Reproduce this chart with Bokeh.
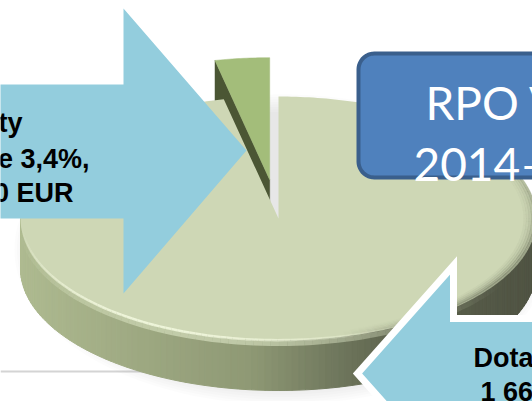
import numpy as np
from bokeh.plotting import figure
from bokeh.models import Range1d
from bokeh.embed import file_html
from bokeh.resources import INLINE
from bokeh.core.properties import value

# ---------------- data ----------------
slice_names = ["Priorita", "Dotace"]
slice_shares = [3.4, 96.6]            # percent of the total
left_arrow_lines = ["ty", "e 3,4%,", "0 EUR"]
box_lines = ["RPO V", "2014\u2013"]
right_arrow_lines = ["Dota", "1 66"]

# ---------------- styles / layout ----------------
SMALL_TOP = "#a3bd7a"
SMALL_CUT = "#4b5634"
BIG_TOP = "#ced7b5"
ARROW = "#93cddd"
BOX_FILL = "#4f81bd"
BOX_LINE = "#3a5f8c"

CX, CY, RX, RY, DEPTH = 278.0, 218.0, 258.0, 122.0, 50.0
EXPLODE = 0.32

p = figure(width=532, height=401, x_range=Range1d(0, 532), y_range=Range1d(401, 0),
           output_backend="svg", toolbar_location=None, min_border=0,
           x_axis_location=None, y_axis_location=None)
p.grid.visible = False
p.outline_line_color = None
p.background_fill_color = "white"
p.border_fill_color = "white"


def rim(theta, ox=0.0, oy=0.0, down=0.0, s=1.0):
    t = np.radians(theta)
    return CX + ox + s * RX * np.cos(t), CY + oy - s * RY * np.sin(t) + down


def interp_color(t, stops):
    for (t0, c0), (t1, c1) in zip(stops[:-1], stops[1:]):
        if t <= t1:
            f = 0 if t1 == t0 else (t - t0) / (t1 - t0)
            c = [int(round(a + (b - a) * f)) for a, b in zip(c0, c1)]
            return "#%02x%02x%02x" % tuple(c)
    return "#%02x%02x%02x" % tuple(stops[-1][1])


# slide rule line
p.line(x=[0, 320], y=[371, 371], line_color="#d4d4d4", line_width=2)

# soft shadow under the pie
for k in range(8):
    th = np.linspace(0, 360, 181)
    sx = CX + 4 + (RX + 10 - k * 2.5) * np.cos(np.radians(th))
    sy = CY + DEPTH / 2 + 6 - (RY + DEPTH / 2 + 8 - k * 2.5) * np.sin(np.radians(th))
    p.patch(x=sx, y=sy, fill_color="#707078", fill_alpha=0.025, line_color=None)

# slice angles from the shares (start at 12 o'clock, counter-clockwise)
angles = 90 + 3.6 * np.concatenate([[0], np.cumsum(slice_shares)])
a_small0, a_small1, a_big1 = angles

# ---- small slice (exploded backwards, drawn first) ----
mid = np.radians((a_small0 + a_small1) / 2)
ox, oy = EXPLODE * RX * np.cos(mid), -EXPLODE * RY * np.sin(mid)
vx, vy = CX + ox, CY + oy
rx_, ry_ = rim(a_small1, ox, oy)
p.patch(x=[vx, rx_, rx_, vx], y=[vy, ry_, ry_ + DEPTH, vy + DEPTH],
        fill_color=SMALL_CUT, line_color=SMALL_CUT, line_width=0.5)
th = np.linspace(a_small0, a_small1, 20)
ax, ay = rim(th, ox, oy)
p.patch(x=np.concatenate([[vx], ax]), y=np.concatenate([[vy], ay]),
        fill_color=SMALL_TOP, line_color=SMALL_TOP, line_width=0.5)

# ---- big slice side band (front half) with gradient ----
side_stops = [(0.0, (174, 186, 144)), (0.45, (142, 152, 116)), (0.6, (114, 122, 95)),
              (0.72, (94, 100, 78)), (1.0, (78, 82, 66))]
N = 120
xs, ys, cols = [], [], []
for i in range(N):
    t0 = 180 + 180 * i / N
    t1 = 180 + 180 * (i + 1) / N
    x0, y0 = rim(t0)
    x1, y1 = rim(t1)
    xs.append([x0, x1, x1, x0])
    ys.append([y0, y1, y1 + DEPTH, y0 + DEPTH])
    cols.append(interp_color(((x0 + x1) / 2 - (CX - RX)) / (2 * RX), side_stops))
p.patches(xs=xs, ys=ys, fill_color=cols, line_color=cols, line_width=1)

# bevel highlight on the upper part of the side band
seg_x, seg_y, seg_a = [], [], []
for i in range(80):
    t0 = 182 + 150 * i / 80
    t1 = 182 + 150 * (i + 1) / 80
    w = np.sin(np.pi * (i + 0.5) / 80) ** 1.5
    x0, y0 = rim(t0, down=3)
    x1, y1 = rim(t1, down=3)
    seg_x.append([x0, x1]); seg_y.append([y0, y1]); seg_a.append(0.55 * w)
p.multi_line(xs=seg_x, ys=seg_y, line_color="#e6efcf", line_alpha=seg_a, line_width=5)

# ---- big slice top face ----
th = np.linspace(a_small1, a_big1, 360)
ax, ay = rim(th)
p.patch(x=np.concatenate([[CX], ax, [CX]]), y=np.concatenate([[CY], ay, [CY]]),
        fill_color=BIG_TOP, line_color=None)

# bright rim line (front-left) and soft dark rim (front-right)
seg_x, seg_y, seg_a = [], [], []
for i in range(80):
    t0 = 185 + 115 * i / 80
    t1 = 185 + 115 * (i + 1) / 80
    w = np.sin(np.pi * (i + 0.5) / 80)
    x0, y0 = rim(t0, s=0.997)
    x1, y1 = rim(t1, s=0.997)
    seg_x.append([x0, x1]); seg_y.append([y0, y1]); seg_a.append(0.9 * w)
p.multi_line(xs=seg_x, ys=seg_y, line_color="#f2f8de", line_alpha=seg_a, line_width=2.5)

for s, a in [(0.995, 0.45), (0.985, 0.3), (0.975, 0.18), (0.965, 0.1), (0.955, 0.05)]:
    seg_x, seg_y, seg_a = [], [], []
    for i in range(60):
        t0 = 285 + 110 * i / 60
        t1 = 285 + 110 * (i + 1) / 60
        w = np.sin(np.pi * (i + 0.5) / 60)
        x0, y0 = rim(t0, s=s)
        x1, y1 = rim(t1, s=s)
        seg_x.append([x0, x1]); seg_y.append([y0, y1]); seg_a.append(a * w)
    p.multi_line(xs=seg_x, ys=seg_y, line_color="#5e6450", line_alpha=seg_a, line_width=3)

# ---- left arrow ----
p.patch(x=[-20, 123, 123, 246, 123, 123, -20], y=[84, 84, 8, 150, 293, 218, 218],
        fill_color=ARROW, line_color=None)
p.text(x=[22, 89, 73], y=[122, 158, 192], text=left_arrow_lines,
       text_align="right", text_baseline="alphabetic",
       text_font=value("Liberation Sans"), text_font_style="bold",
       text_font_size="27px", text_color="black")

# ---- title box (rounded) ----
bx0, by0, bx1, by1, r = 358, 53, 660, 177, 16
corner = []
for (ccx, ccy, a0) in [(bx1 - r, by0 + r, 0), (bx0 + r, by0 + r, 90),
                       (bx0 + r, by1 - r, 180), (bx1 - r, by1 - r, 270)]:
    tt = np.radians(np.linspace(a0, a0 + 90, 12))
    corner += list(zip(ccx + r * np.cos(tt), ccy - r * np.sin(tt)))
p.patch(x=[c[0] for c in corner], y=[c[1] for c in corner],
        fill_color=BOX_FILL, line_color=BOX_LINE, line_width=4)
p.text(x=[425, 413], y=[102, 163], text=box_lines, text_align="left",
       text_baseline="alphabetic", text_font=value("Lato"),
       text_font_size="46px", text_color="white")

# ---- bottom-right arrow ----
p.patch(x=[357, 453, 453, 640, 640, 453, 453], y=[373, 265, 318, 318, 428, 428, 481],
        fill_color=ARROW, line_color="white", line_width=7, line_join="miter")
p.text(x=[473, 480], y=[357, 391], text=right_arrow_lines, text_align="left",
       text_baseline="alphabetic", text_font=value("Liberation Sans"),
       text_font_style="bold", text_font_size="27px", text_color="black")

open("out.html", "w").write(file_html(p, INLINE))
